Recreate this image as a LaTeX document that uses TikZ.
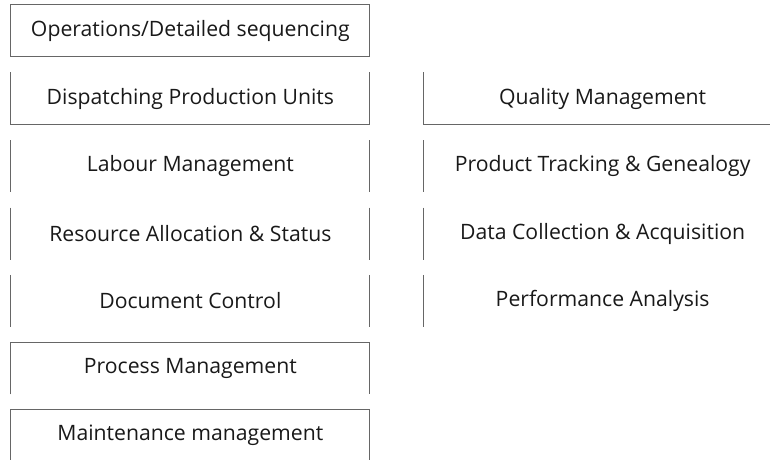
\documentclass[tikz,border=0pt]{standalone}
\usepackage{fontspec}
\setmainfont{Open Sans}
\begin{document}
\begin{tikzpicture}[x=1pt,y=-1pt,
  mod/.style={minimum width=358.7pt,minimum height=51.7pt,inner sep=0pt,
    font=\fontsize{21.2}{24}\selectfont,text=black!90},
  edge/.style={draw=black!60,line width=1pt}]
\useasboundingbox (0,0) rectangle (770,459);
\clip (0,0) rectangle (770,459);
% left column
\node[mod] (ops) at (190.35,30.85) {Operations/Detailed sequencing};
\node[mod] (disp) at (190.35,98.5) {Dispatching Production Units};
\node[mod] (lab) at (190.35,166.35) {Labour Management};
\node[mod] (res) at (190.35,233.65) {Resource Allocation \& Status};
\node[mod] (doc) at (190.35,300.85) {Document Control};
\node[mod] (proc) at (190.35,368.35) {Process Management};
\node[mod] (maint) at (190.35,435.2) {Maintenance management};
% right column
\node[mod] (qual) at (602.65,98.5) {Quality Management};
\node[mod] (prod) at (602.65,166.35) {Product Tracking \& Genealogy};
\node[mod] (data) at (602.65,233.65) {Data Collection \& Acquisition};
\node[mod] (perf) at (602.65,300.85) {Performance Analysis};
% borders
\draw[edge] (ops.north west) rectangle (ops.south east);
\draw[edge] (disp.north west) -- (disp.south west) -- (disp.south east) -- (disp.north east);
\draw[edge] (lab.north west) -- (lab.south west) (lab.north east) -- (lab.south east);
\draw[edge] (res.north west) -- (res.south west) (res.north east) -- (res.south east);
\draw[edge] (doc.north west) -- (doc.south west) (doc.north east) -- (doc.south east);
\draw[edge] (proc.south west) -- (proc.north west) -- (proc.north east) -- (proc.south east);
\draw[edge] (maint.south west) -- (maint.north west) -- (maint.north east) -- (maint.south east);
\draw[edge] (qual.north west) -- (qual.south west) -- (qual.south east);
\draw[edge] (prod.north west) -- (prod.south west);
\draw[edge] (data.north west) -- (data.south west);
\draw[edge] (perf.north west) -- (perf.south west);
\end{tikzpicture}
\end{document}
